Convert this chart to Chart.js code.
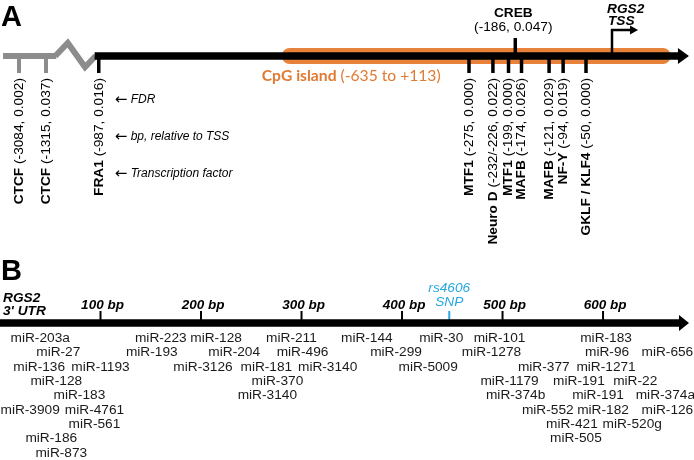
<!DOCTYPE html>
<html><head><meta charset="utf-8">
<script src="https://cdn.jsdelivr.net/npm/chart.js@4.4.1/dist/chart.umd.min.js"></script>
<style>html,body{margin:0;padding:0;background:#fff;}canvas{display:block;}</style>
</head><body>
<canvas id="c" width="694" height="460"></canvas>
<script>
// ---------- Panel A: RGS2 promoter (bp relative to TSS) ----------
const farNames = ['CTCF', 'CTCF'];
const farBp = [-3084, -1315];
const farFdr = [0.002, 0.037];
const farAxis = [-4130, -640];           // extent of distant upstream segment (before break)

const nearNames = ['FRA1', 'MTF1', 'Neuro D', 'MTF1', 'MAFB', 'MAFB', 'NF-Y', 'GKLF / KLF4'];
const nearBp = [-987, -275, -229, -199, -174, -121, -94, -50];
const nearBpText = ['-987', '-275', '-232/-226', '-199', '-174', '-121', '-94', '-50'];
const nearFdr = [0.016, 0.000, 0.022, 0.000, 0.026, 0.029, 0.019, 0.000];

const aboveNames = ['CREB'];
const aboveBp = [-186];
const aboveFdr = [0.047];

const cpgIsland = [-635, 113];
const tssBp = 0;
const promoterAxis = [-995, 148];
const legendNotes = ['FDR', 'bp, relative to TSS', 'Transcription factor'];

// ---------- Panel B: RGS2 3' UTR ----------
const utrTicks = [100, 200, 300, 400, 500, 600];
const utrAxis = [0, 685.5];
const snpName = 'rs4606';
const snpBp = 447;

const mirNames = [
  'miR-203a','miR-223','miR-128','miR-211','miR-144','miR-30','miR-101','miR-183',
  'miR-27','miR-193','miR-204','miR-496','miR-299','miR-1278','miR-96','miR-656',
  'miR-136','miR-1193','miR-3126','miR-181','miR-3140','miR-5009','miR-377','miR-1271',
  'miR-128','miR-370','miR-1179','miR-191','miR-22',
  'miR-183','miR-3140','miR-374b','miR-191','miR-374a',
  'miR-3909','miR-4761','miR-552','miR-182','miR-126',
  'miR-561','miR-421','miR-520g',
  'miR-186','miR-505',
  'miR-873'
];
const mirBp = [
  40, 160, 215, 290, 365, 439, 497, 603,
  58, 151, 233, 301, 394, 489, 604, 664,
  39, 100, 202, 265, 326, 426, 541, 603,
  56, 276, 507, 576, 632,
  79, 266, 513, 595, 662,
  30, 94, 545, 600, 664,
  94, 569, 629,
  51, 573,
  61
];
const mirRow = [
  0,0,0,0,0,0,0,0,
  1,1,1,1,1,1,1,1,
  2,2,2,2,2,2,2,2,
  3,3,3,3,3,
  4,4,4,4,4,
  5,5,5,5,5,
  6,6,6,
  7,7,
  8
];

// ---------- styles / layout ----------
const FONT = '"Liberation Sans", Arial, Helvetica, sans-serif';
const ORANGE = '#E8823A';
const ORANGE_TXT = '#E07A32';
const GRAY = '#8C8C8C';
const BLUE = '#29A8E0';
const LINE_A_Y = 56;
const LINE_B_Y = 323;

function pt(xs, yv) { return xs.map(v => ({x: v, y: yv})); }

function drawRotLabel(ctx, x, yTop, bold, rest, size) {
  ctx.save();
  ctx.translate(x, yTop);
  ctx.rotate(-Math.PI / 2);
  ctx.textBaseline = 'middle';
  ctx.textAlign = 'left';
  ctx.font = `bold ${size}px ${FONT}`;
  const wb = ctx.measureText(bold).width;
  ctx.font = `${size}px ${FONT}`;
  const wr = ctx.measureText(' ' + rest).width;
  const W = wb + wr;
  ctx.fillStyle = '#000';
  ctx.font = `bold ${size}px ${FONT}`;
  ctx.fillText(bold, -W, 0);
  ctx.font = `${size}px ${FONT}`;
  ctx.fillText(' ' + rest, -W + wb, 0);
  ctx.restore();
}

function arrowHead(ctx, tipX, y, len, half, color) {
  ctx.beginPath();
  ctx.moveTo(tipX, y);
  ctx.lineTo(tipX - len, y - half);
  ctx.lineTo(tipX - len, y + half);
  ctx.closePath();
  ctx.fillStyle = color;
  ctx.fill();
}

const diagramPlugin = {
  id: 'diagram',
  beforeDatasetsDraw(chart) {
    const {ctx, scales} = chart;
    const xa = scales.xa, y = scales.y;
    const x0 = xa.getPixelForValue(cpgIsland[0]);
    const x1 = xa.getPixelForValue(cpgIsland[1]);
    const yc = y.getPixelForValue(LINE_A_Y);
    ctx.save();
    ctx.fillStyle = ORANGE;
    ctx.beginPath();
    ctx.roundRect(x0, yc - 8, x1 - x0, 16, 8);
    ctx.fill();
    // axis break (zigzag) between distant and proximal promoter
    const g = scales.xf.getPixelForValue(farAxis[1]);
    const b = xa.getPixelForValue(promoterAxis[0]);
    const span = b - g;
    ctx.strokeStyle = GRAY;
    ctx.lineWidth = 6;
    ctx.lineJoin = 'miter';
    ctx.beginPath();
    ctx.moveTo(g - 1, yc);
    ctx.lineTo(g + span * 0.3, yc - 13);
    ctx.lineTo(g + span * 0.75, yc + 11);
    ctx.lineTo(b + 1, yc);
    ctx.stroke();
    ctx.restore();
  },
  afterDatasetsDraw(chart) {
    const {ctx, scales} = chart;
    const xa = scales.xa, xf = scales.xf, xb = scales.x, y = scales.y;
    const ya = y.getPixelForValue(LINE_A_Y);
    const yb = y.getPixelForValue(LINE_B_Y);
    ctx.save();

    // panel letters
    ctx.fillStyle = '#000';
    ctx.textBaseline = 'alphabetic';
    ctx.textAlign = 'left';
    ctx.font = `bold 29px ${FONT}`;
    ctx.fillText('A', 1, 26);
    ctx.fillText('B', 1, 280);

    // ---- Panel A ----
    arrowHead(ctx, xa.getPixelForValue(promoterAxis[1]), ya, 11, 8, '#000');

    // TSS bent arrow
    const tx = xa.getPixelForValue(tssBp);
    ctx.strokeStyle = '#000';
    ctx.lineWidth = 2.5;
    ctx.lineCap = 'butt';
    ctx.beginPath();
    ctx.moveTo(tx, ya);
    ctx.lineTo(tx, 30);
    ctx.lineTo(tx + 20, 30);
    ctx.stroke();
    arrowHead(ctx, tx + 26, 30, 8, 4.5, '#000');
    ctx.font = `italic bold 13.7px ${FONT}`;
    ctx.fillStyle = '#000';
    ctx.textAlign = 'left';
    ctx.fillText('RGS2', tx - 5, 13);
    ctx.fillText('TSS', tx - 4, 25);

    // CREB (above line)
    aboveNames.forEach((n, i) => {
      const cx = xa.getPixelForValue(aboveBp[i]) - 2;
      ctx.textAlign = 'center';
      ctx.font = `bold 13.7px ${FONT}`;
      ctx.fillText(n, cx, 17);
      ctx.font = `13.7px ${FONT}`;
      ctx.fillText(`(${aboveBp[i]}, ${aboveFdr[i].toFixed(3)})`, cx, 31);
    });

    // CpG island label
    ctx.fillStyle = ORANGE_TXT;
    ctx.textAlign = 'left';
    const cpgFont = '"Lato", "Open Sans", sans-serif';
    const t1 = 'CpG island', t2 = ` (${cpgIsland[0]} to +${cpgIsland[1]})`;
    ctx.font = `bold 16px ${cpgFont}`;
    const w1 = ctx.measureText(t1).width;
    ctx.font = `16px ${cpgFont}`;
    const w2 = ctx.measureText(t2).width;
    const sz = 16 * 179 / (w1 + w2);
    const lx = xa.getPixelForValue(cpgIsland[0]) - 20;
    ctx.font = `bold ${sz}px ${cpgFont}`;
    ctx.fillText(t1, lx, 81);
    const w1s = ctx.measureText(t1).width;
    ctx.font = `${sz}px ${cpgFont}`;
    ctx.fillText(t2, lx + w1s, 81);

    // rotated labels below the line
    farNames.forEach((n, i) => {
      drawRotLabel(ctx, xf.getPixelForValue(farBp[i]), 78, n, `(${farBp[i]}, ${farFdr[i].toFixed(3)})`, 13.7);
    });
    nearNames.forEach((n, i) => {
      drawRotLabel(ctx, xa.getPixelForValue(nearBp[i]), 78, n, `(${nearBpText[i]}, ${nearFdr[i].toFixed(3)})`, 13.7);
    });

    // key notes
    ctx.fillStyle = '#000';
    ctx.textAlign = 'left';
    ctx.textBaseline = 'middle';
    const nx = xa.getPixelForValue(nearBp[0]) + 16;
    legendNotes.forEach((t, i) => {
      const yy = 100 + i * 37;
      ctx.font = `15px "DejaVu Sans", ${FONT}`;
      ctx.fillText('\u2190', nx, yy);
      const aw = ctx.measureText('\u2190').width;
      ctx.font = `italic 12px ${FONT}`;
      ctx.fillText(' ' + t, nx + aw, yy);
    });

    // ---- Panel B ----
    ctx.textBaseline = 'alphabetic';
    arrowHead(ctx, xb.getPixelForValue(utrAxis[1]), yb, 10, 8, '#000');
    ctx.font = `italic bold 13.7px ${FONT}`;
    ctx.textAlign = 'left';
    ctx.fillText('RGS2', 3, 302);
    ctx.fillText("3' UTR", 3, 315);
    ctx.font = `italic bold 13.5px ${FONT}`;
    ctx.textAlign = 'center';
    utrTicks.forEach(v => {
      ctx.fillText(`${v} bp`, xb.getPixelForValue(v) + 2, 309);
    });
    ctx.fillStyle = BLUE;
    ctx.font = `italic 13.7px ${FONT}`;
    const sx = xb.getPixelForValue(snpBp);
    ctx.fillText(snpName, sx, 292);
    ctx.fillText('SNP', sx, 306);

    // miRNA labels at the dataset's points
    const meta = chart.getDatasetMeta(chart.data.datasets.findIndex(d => d.label === 'miRNA'));
    ctx.fillStyle = '#1a1a1a';
    ctx.font = `13.7px ${FONT}`;
    ctx.textAlign = 'center';
    ctx.textBaseline = 'middle';
    meta.data.forEach((p, i) => {
      ctx.fillText(mirNames[i], p.x, p.y);
    });
    ctx.restore();
  }
};

const tickStyle = (color, radius, width) => ({
  showLine: false, pointStyle: 'line', pointRotation: 90, pointRadius: radius,
  pointBorderWidth: width, pointBorderColor: color, borderColor: color, pointBackgroundColor: color
});
const lineStyle = (color, width) => ({
  showLine: true, pointRadius: 0, borderColor: color, borderWidth: width, borderCapStyle: 'butt'
});

new Chart(document.getElementById('c'), {
  type: 'scatter',
  data: {
    datasets: [
      Object.assign({label: 'far', xAxisID: 'xf', yAxisID: 'y', data: pt(farAxis, LINE_A_Y)}, lineStyle(GRAY, 6)),
      Object.assign({label: 'promoter', xAxisID: 'xa', yAxisID: 'y', data: pt([promoterAxis[0], promoterAxis[1] - 12], LINE_A_Y)}, lineStyle('#000', 7.5)),
      Object.assign({label: 'farSites', xAxisID: 'xf', yAxisID: 'y', data: pt(farBp, LINE_A_Y + 8.5)}, tickStyle(GRAY, 8.5, 4)),
      Object.assign({label: 'nearSites', xAxisID: 'xa', yAxisID: 'y', data: pt(nearBp, LINE_A_Y + 8.5)}, tickStyle('#000', 8.5, 3.5)),
      Object.assign({label: 'aboveSites', xAxisID: 'xa', yAxisID: 'y', data: pt(aboveBp, LINE_A_Y - 9)}, tickStyle('#000', 9, 3.5)),
      Object.assign({label: 'utr', xAxisID: 'x', yAxisID: 'y', data: pt([utrAxis[0], utrAxis[1] - 8], LINE_B_Y)}, lineStyle('#000', 7.5)),
      Object.assign({label: 'utrTicks', xAxisID: 'x', yAxisID: 'y', data: pt(utrTicks, LINE_B_Y - 6)}, tickStyle('#000', 6, 2)),
      Object.assign({label: 'snp', xAxisID: 'x', yAxisID: 'y', data: pt([snpBp], LINE_B_Y - 6)}, tickStyle(BLUE, 6, 2)),
      {label: 'miRNA', xAxisID: 'x', yAxisID: 'yB', showLine: false, pointRadius: 0,
       data: mirBp.map((v, i) => ({x: v, y: mirRow[i]}))}
    ]
  },
  options: {
    responsive: false,
    animation: false,
    events: [],
    layout: {padding: 0, autoPadding: false},
    plugins: {legend: {display: false}, tooltip: {enabled: false}},
    scales: {
      x:  {type: 'linear', display: false, min: 0, max: 690.5},
      xa: {type: 'linear', display: false, min: -612 / 0.52, max: (694 - 612) / 0.52},
      xf: {type: 'linear', display: false, min: -4329, max: -4329 + 694 / 0.01526},
      y:  {type: 'linear', display: false, min: 0, max: 460, reverse: true},
      yB: {type: 'linear', display: false, min: -338 / 14.375, max: (460 - 338) / 14.375, reverse: true}
    }
  },
  plugins: [diagramPlugin]
});
</script>
</body></html>
